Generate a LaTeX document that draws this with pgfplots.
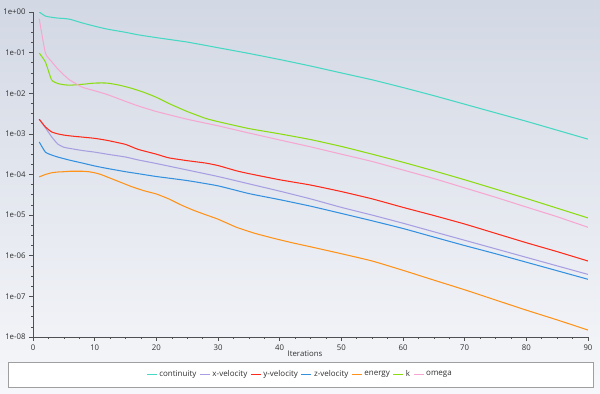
\documentclass[border=0pt]{standalone}
\usepackage{fontspec}
\setmainfont{Open Sans}
\usepackage{pgfplots}
\pgfplotsset{compat=1.18}
\definecolor{cCont}{HTML}{45D8C2}
\definecolor{cXv}{HTML}{A89EE2}
\definecolor{cYv}{HTML}{FF2A1A}
\definecolor{cZv}{HTML}{3391E0}
\definecolor{cEn}{HTML}{FF9218}
\definecolor{cK}{HTML}{8CDC12}
\definecolor{cOm}{HTML}{F7A6D2}
\definecolor{bgtop}{HTML}{D2D8E4}
\definecolor{bgbot}{HTML}{F6F7FA}
\definecolor{axgray}{HTML}{505050}
\definecolor{txt}{HTML}{303030}
\begin{document}
\begin{tikzpicture}[x=1pt,y=1pt]
\shade[top color=bgtop, bottom color=bgbot] (0,0) rectangle (600,394);
\filldraw[fill=white!96!bgbot, draw=gray!75, line width=0.8pt] (8,7) rectangle (593,32);
\begin{axis}[
  at={(33pt,57pt)}, anchor=south west,
  scale only axis, width=555pt, height=325pt,
  ymode=log, xmin=0, xmax=90, ymin=1e-8, ymax=1,
  axis x line*=bottom, axis y line*=left,
  x axis line style={-}, y axis line style={-},
  axis line style={color=axgray, line width=0.8pt},
  tick align=outside, major tick length=4pt, minor tick length=2pt,
  tick style={color=axgray, line width=0.6pt},
  xtick={0,10,...,90}, minor x tick num=3,
  ytick={1,1e-1,1e-2,1e-3,1e-4,1e-5,1e-6,1e-7,1e-8},
  yticklabels={1e+00,1e-01,1e-02,1e-03,1e-04,1e-05,1e-06,1e-07,1e-08},
  minor ytick={5.623e-1,3.162e-1,1.778e-1,5.623e-2,3.162e-2,1.778e-2,5.623e-3,3.162e-3,1.778e-3,5.623e-4,3.162e-4,1.778e-4,5.623e-5,3.162e-5,1.778e-5,5.623e-6,3.162e-6,1.778e-6,5.623e-7,3.162e-7,1.778e-7,5.623e-8,3.162e-8,1.778e-8},
  /pgf/number format/assume math mode=true,
  ticklabel style={font=\fontsize{7.8}{9}\selectfont, text=txt},
  xlabel={Iterations},
  xlabel style={font=\fontsize{7.8}{9}\selectfont, text=txt, at={(axis description cs:0.49,0)}, anchor=center, yshift=-17pt},
  legend columns=-1,
  legend style={at={(axis description cs:0.4811,-0.1154)}, anchor=center, draw=none, fill=none,
    font=\fontsize{8}{9}\selectfont, text=txt,
    /tikz/every even column/.append style={column sep=1pt},
    nodes={inner xsep=2pt}},
  legend image code/.code={\draw[#1] (0pt,0pt) -- (10pt,0pt);},
  every axis plot/.append style={line width=1.05pt, smooth, tension=0.3},
]
\addplot[cCont] coordinates {(1,1) (2,0.794) (3,0.741) (4,0.708) (5,0.692) (6,0.661) (8,0.537) (10,0.447) (12,0.380) (15,0.316) (17,0.275) (20,0.234) (25,0.182) (30,0.132) (35,0.0955) (40,0.0676) (45,0.0468) (50,0.0316) (55,0.0214) (60,0.0138) (65,0.00871) (70,0.00537) (75,0.00331) (80,0.00204) (85,0.00123) (90,0.000741)};
\addlegendentry{continuity}
\addplot[cXv] coordinates {(1,2.29e-3) (2,1.41e-3) (3,8.51e-4) (4,5.62e-4) (5,4.68e-4) (6,4.37e-4) (8,3.89e-4) (10,3.55e-4) (12,3.16e-4) (15,2.69e-4) (17,2.29e-4) (20,1.86e-4) (25,1.29e-4) (30,8.91e-5) (35,5.89e-5) (40,3.89e-5) (45,2.51e-5) (50,1.55e-5) (55,1e-5) (60,6.31e-6) (65,3.89e-6) (70,2.40e-6) (75,1.48e-6) (80,9.12e-7) (85,5.62e-7) (90,3.47e-7)};
\addlegendentry{x-velocity}
\addplot[cYv] coordinates {(1,2.29e-3) (2,1.48e-3) (3,1.12e-3) (4,1e-3) (5,9.33e-4) (6,8.91e-4) (8,8.32e-4) (10,7.76e-4) (12,6.92e-4) (15,5.50e-4) (17,4.17e-4) (20,3.16e-4) (22,2.57e-4) (25,2.19e-4) (28,1.91e-4) (30,1.66e-4) (33,1.23e-4) (35,1.05e-4) (40,7.41e-5) (45,5.50e-5) (50,3.80e-5) (55,2.51e-5) (60,1.55e-5) (65,9.77e-6) (70,6.03e-6) (75,3.55e-6) (80,2.09e-6) (85,1.26e-6) (90,7.41e-7)};
\addlegendentry{y-velocity}
\addplot[cZv] coordinates {(1,6.31e-4) (2,3.55e-4) (3,3.02e-4) (4,2.69e-4) (5,2.45e-4) (6,2.24e-4) (8,1.91e-4) (10,1.62e-4) (12,1.41e-4) (15,1.17e-4) (17,1.05e-4) (20,8.91e-5) (25,7.08e-5) (30,5.25e-5) (35,3.39e-5) (40,2.40e-5) (45,1.66e-5) (50,1.10e-5) (55,7.24e-6) (60,4.68e-6) (65,2.88e-6) (70,1.78e-6) (75,1.12e-6) (80,6.92e-7) (85,4.27e-7) (90,2.63e-7)};
\addlegendentry{z-velocity}
\addplot[cEn] coordinates {(1,8.71e-5) (2,1e-4) (3,1.10e-4) (4,1.15e-4) (5,1.17e-4) (6,1.20e-4) (7,1.20e-4) (8,1.20e-4) (9,1.17e-4) (10,1.10e-4) (11,1e-4) (12,8.71e-5) (13,7.59e-5) (14,6.61e-5) (16,5.01e-5) (18,3.98e-5) (20,3.31e-5) (22,2.51e-5) (24,1.78e-5) (26,1.32e-5) (28,1.02e-5) (30,7.94e-6) (33,5.01e-6) (36,3.55e-6) (39,2.69e-6) (42,2.09e-6) (45,1.66e-6) (50,1.12e-6) (55,7.41e-7) (60,4.37e-7) (65,2.51e-7) (70,1.45e-7) (75,8.13e-8) (80,4.57e-8) (85,2.63e-8) (90,1.48e-8)};
\addlegendentry{energy}
\addplot[cK] coordinates {(1,0.0977) (2,0.0589) (3,0.0214) (4,0.0174) (5,0.0162) (6,0.0158) (8,0.0166) (10,0.0178) (12,0.0178) (14,0.0158) (16,0.0132) (18,0.0105) (20,0.00794) (22,0.00562) (25,0.00355) (28,0.0024) (30,0.002) (35,0.00135) (40,0.001) (45,0.000724) (50,0.00049) (55,0.000316) (60,0.0002) (65,0.000123) (70,7.41e-5) (75,4.37e-5) (80,2.57e-5) (85,1.48e-5) (90,8.51e-6)};
\addlegendentry{k}
\addplot[cOm] coordinates {(1,0.676) (2,0.0977) (3,0.0603) (4,0.0398) (5,0.0282) (6,0.0209) (8,0.0141) (10,0.0115) (12,0.00933) (15,0.00631) (17,0.0049) (20,0.00355) (25,0.00229) (30,0.00158) (35,0.00105) (40,0.000708) (45,0.000479) (50,0.000316) (55,0.000209) (60,0.000129) (65,7.94e-5) (70,4.68e-5) (75,2.75e-5) (80,1.58e-5) (85,9.12e-6) (90,5.01e-6)};
\addlegendentry{omega}
\end{axis}
\end{tikzpicture}
\end{document}
